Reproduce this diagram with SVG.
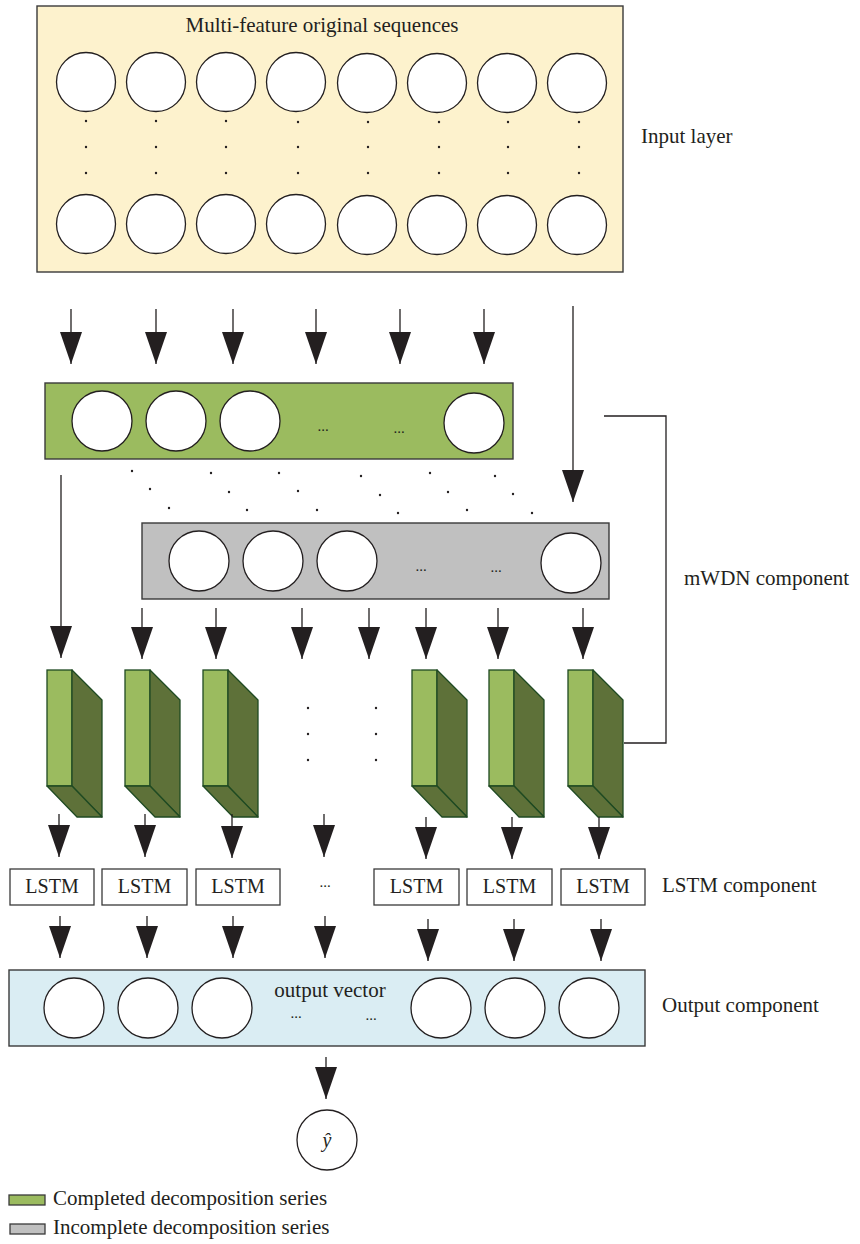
<svg xmlns="http://www.w3.org/2000/svg" width="860" height="1244" viewBox="0 0 860 1244">
<style>
  text { font-family: "Liberation Serif", "Times New Roman", serif; fill: #231f20; }
  .lbl { font-size: 21px; }
  .box { font-size: 20px; text-anchor: middle; }
  .ell { font-size: 15px; text-anchor: middle; }
  .c { fill: #ffffff; stroke: #231f20; stroke-width: 1.3; }
  .panel { stroke: #3a3a3a; stroke-width: 1.4; }
  .dot { fill: #231f20; }
  .arr { stroke: #231f20; stroke-width: 1.3; fill: none; marker-end: url(#ah); }
  .ln { stroke: #231f20; stroke-width: 1.3; fill: none; }
  .front { fill: #9bbb5f; stroke: #1f4a22; stroke-width: 1.3; }
  .side { fill: #5e7139; stroke: #1f4a22; stroke-width: 1.3; stroke-linejoin: round; }
  .lstm { fill: #ffffff; stroke: #3a3a3a; stroke-width: 1.3; }
</style>
<defs>
  <marker id="ah" viewBox="0 0 32 22" refX="32" refY="11" markerWidth="32" markerHeight="22" markerUnits="userSpaceOnUse" orient="auto">
    <polygon points="0,0 32,11 0,22" fill="#231f20"/>
  </marker>
  <g id="blk">
    <rect class="front" x="0" y="0" width="25" height="116"/>
    <polygon class="side" points="25,0 55,30 55,147 25,116"/>
    <polygon class="side" points="0,116 25,116 55,147 30,147"/>
  </g>
</defs>

<!-- Input layer -->
<g id="input-layer">
  <rect class="panel" x="37" y="6" width="586" height="266" fill="#fdf2cd"/>
  <text class="lbl" x="322" y="32" text-anchor="middle">Multi-feature original sequences</text>
  <g>
    <circle class="c" cx="86" cy="82" r="29.5"/>
    <circle class="c" cx="156" cy="82" r="29.5"/>
    <circle class="c" cx="226" cy="82" r="29.5"/>
    <circle class="c" cx="296" cy="82" r="29.5"/>
    <circle class="c" cx="367" cy="83" r="29.5"/>
    <circle class="c" cx="437" cy="83" r="29.5"/>
    <circle class="c" cx="507" cy="83" r="29.5"/>
    <circle class="c" cx="577" cy="83" r="29.5"/>
    <circle class="c" cx="86" cy="224" r="29.5"/>
    <circle class="c" cx="156" cy="224" r="29.5"/>
    <circle class="c" cx="226" cy="224" r="29.5"/>
    <circle class="c" cx="296" cy="224" r="29.5"/>
    <circle class="c" cx="367" cy="225" r="29.5"/>
    <circle class="c" cx="437" cy="225" r="29.5"/>
    <circle class="c" cx="507" cy="225" r="29.5"/>
    <circle class="c" cx="577" cy="225" r="29.5"/>
  </g>
  <g class="dot">
    <circle cx="86" cy="121" r="1.2"/><circle cx="86" cy="147" r="1.2"/><circle cx="86" cy="173" r="1.2"/>
    <circle cx="156" cy="121" r="1.2"/><circle cx="156" cy="147" r="1.2"/><circle cx="156" cy="173" r="1.2"/>
    <circle cx="226" cy="121" r="1.2"/><circle cx="226" cy="147" r="1.2"/><circle cx="226" cy="173" r="1.2"/>
    <circle cx="298" cy="122" r="1.2"/><circle cx="298" cy="147" r="1.2"/><circle cx="298" cy="173" r="1.2"/>
    <circle cx="368" cy="122" r="1.2"/><circle cx="368" cy="147" r="1.2"/><circle cx="368" cy="173" r="1.2"/>
    <circle cx="439" cy="122" r="1.2"/><circle cx="439" cy="147" r="1.2"/><circle cx="439" cy="173" r="1.2"/>
    <circle cx="508" cy="122" r="1.2"/><circle cx="508" cy="147" r="1.2"/><circle cx="508" cy="173" r="1.2"/>
    <circle cx="579" cy="122" r="1.2"/><circle cx="579" cy="147" r="1.2"/><circle cx="579" cy="173" r="1.2"/>
  </g>
</g>
<text class="lbl" x="641" y="143">Input layer</text>

<!-- Completed decomposition (green) -->
<g id="green-series">
  <rect class="panel" x="45" y="383" width="468" height="76" fill="#9bbb5f"/>
  <circle class="c" cx="102" cy="421" r="30"/>
  <circle class="c" cx="176" cy="421" r="30"/>
  <circle class="c" cx="250" cy="421" r="30"/>
  <circle class="c" cx="474" cy="423" r="30"/>
  <text class="ell" x="323" y="431">...</text>
  <text class="ell" x="399" y="433">...</text>
</g>

<!-- diagonal dots -->
<g id="diag-dots" class="dot">
  <circle cx="132" cy="471" r="1.2"/><circle cx="150" cy="489" r="1.2"/><circle cx="169" cy="508" r="1.2"/>
  <circle cx="211" cy="473" r="1.2"/><circle cx="229" cy="492" r="1.2"/><circle cx="247" cy="510" r="1.2"/>
  <circle cx="279" cy="473" r="1.2"/><circle cx="298" cy="491" r="1.2"/><circle cx="317" cy="510" r="1.2"/>
  <circle cx="361" cy="476" r="1.2"/><circle cx="380" cy="495" r="1.2"/><circle cx="398" cy="513" r="1.2"/>
  <circle cx="430" cy="473" r="1.2"/><circle cx="448" cy="492" r="1.2"/><circle cx="467" cy="510" r="1.2"/>
  <circle cx="495" cy="476" r="1.2"/><circle cx="513" cy="494" r="1.2"/><circle cx="532" cy="513" r="1.2"/>
</g>

<!-- Incomplete decomposition (gray) -->
<g id="gray-series">
  <rect class="panel" x="142" y="523" width="467" height="76" fill="#c0c0c0"/>
  <circle class="c" cx="199" cy="561" r="30"/>
  <circle class="c" cx="273" cy="561" r="30"/>
  <circle class="c" cx="347" cy="561" r="30"/>
  <circle class="c" cx="571" cy="563" r="30"/>
  <text class="ell" x="421" y="571">...</text>
  <text class="ell" x="496" y="572">...</text>
</g>
<text class="lbl" x="684" y="585">mWDN component</text>

<!-- 3D blocks -->
<g id="block-1"><use href="#blk" x="47" y="670"/></g>
<g id="block-2"><use href="#blk" x="125" y="670"/></g>
<g id="block-3"><use href="#blk" x="203" y="670"/></g>
<g id="block-4"><use href="#blk" x="412" y="670"/></g>
<g id="block-5"><use href="#blk" x="489" y="670"/></g>
<g id="block-6"><use href="#blk" x="568" y="670"/></g>
<g id="block-dots" class="dot">
  <circle cx="308" cy="708" r="1.2"/><circle cx="308" cy="734" r="1.2"/><circle cx="308" cy="760" r="1.2"/>
  <circle cx="376" cy="708" r="1.2"/><circle cx="376" cy="734" r="1.2"/><circle cx="376" cy="760" r="1.2"/>
</g>

<!-- LSTM row -->
<g id="lstm-1"><rect class="lstm" x="10" y="869" width="84" height="36"/><text class="box" x="52" y="893">LSTM</text></g>
<g id="lstm-2"><rect class="lstm" x="102" y="869" width="85" height="36"/><text class="box" x="144.5" y="893">LSTM</text></g>
<g id="lstm-3"><rect class="lstm" x="196" y="869" width="84" height="36"/><text class="box" x="238" y="893">LSTM</text></g>
<text class="ell" x="325" y="887">...</text>
<g id="lstm-4"><rect class="lstm" x="374" y="869" width="85" height="36"/><text class="box" x="416.5" y="893">LSTM</text></g>
<g id="lstm-5"><rect class="lstm" x="467" y="869" width="85" height="36"/><text class="box" x="509.5" y="893">LSTM</text></g>
<g id="lstm-6"><rect class="lstm" x="561" y="869" width="84" height="36"/><text class="box" x="603" y="893">LSTM</text></g>
<text class="lbl" x="662" y="892">LSTM component</text>

<!-- Output -->
<g id="output-vector">
  <rect class="panel" x="9" y="970" width="636" height="76" fill="#daedf3"/>
  <circle class="c" cx="74" cy="1008" r="30"/>
  <circle class="c" cx="148" cy="1008" r="30"/>
  <circle class="c" cx="222" cy="1008" r="30"/>
  <circle class="c" cx="441" cy="1008" r="30"/>
  <circle class="c" cx="515" cy="1008" r="30"/>
  <circle class="c" cx="589" cy="1008" r="30"/>
  <text class="lbl" x="330" y="997" text-anchor="middle">output vector</text>
  <text class="ell" x="296" y="1018">...</text>
  <text class="ell" x="371" y="1020">...</text>
</g>
<text class="lbl" x="662" y="1012">Output component</text>

<g id="y-hat">
  <circle class="c" cx="327" cy="1140" r="30"/>
  <text x="327" y="1147" font-size="20" font-style="italic" text-anchor="middle">ŷ</text>
</g>

<!-- Legend -->
<g id="legend">
  <rect x="9" y="1195" width="36" height="10" fill="#9bbb5f" stroke="#3a3a3a" stroke-width="1.3"/>
  <text class="lbl" x="53" y="1205">Completed decomposition series</text>
  <rect x="10" y="1224" width="35" height="10" fill="#c0c0c0" stroke="#3a3a3a" stroke-width="1.3"/>
  <text class="lbl" x="53" y="1234">Incomplete decomposition series</text>
</g>

<!-- Connectors -->
<g id="connectors">
  <line class="arr" x1="71" y1="309" x2="71" y2="364"/>
  <line class="arr" x1="156" y1="309" x2="156" y2="364"/>
  <line class="arr" x1="233" y1="309" x2="233" y2="364"/>
  <line class="arr" x1="316" y1="309" x2="316" y2="364"/>
  <line class="arr" x1="400" y1="309" x2="400" y2="364"/>
  <line class="arr" x1="484" y1="309" x2="484" y2="364"/>
  <line class="arr" x1="573" y1="306" x2="573" y2="502"/>
  <line class="arr" x1="61" y1="475" x2="61" y2="658"/>
  <line class="arr" x1="142" y1="608" x2="142" y2="659"/>
  <line class="arr" x1="216" y1="608" x2="216" y2="659"/>
  <line class="arr" x1="302" y1="608" x2="302" y2="659"/>
  <line class="arr" x1="369" y1="608" x2="369" y2="659"/>
  <line class="arr" x1="426" y1="608" x2="426" y2="659"/>
  <line class="arr" x1="498" y1="608" x2="498" y2="659"/>
  <line class="arr" x1="583" y1="608" x2="583" y2="659"/>
  <line class="arr" x1="59" y1="814" x2="59" y2="857"/>
  <line class="arr" x1="145" y1="814" x2="145" y2="857"/>
  <line class="arr" x1="232" y1="814" x2="232" y2="858"/>
  <line class="arr" x1="324" y1="814" x2="324" y2="857"/>
  <line class="arr" x1="426" y1="817" x2="426" y2="859"/>
  <line class="arr" x1="512" y1="817" x2="512" y2="859"/>
  <line class="arr" x1="599" y1="817" x2="599" y2="859"/>
  <line class="arr" x1="60" y1="916" x2="60" y2="958"/>
  <line class="arr" x1="147" y1="916" x2="147" y2="958"/>
  <line class="arr" x1="233" y1="916" x2="233" y2="958"/>
  <line class="arr" x1="325" y1="916" x2="325" y2="958"/>
  <line class="arr" x1="428" y1="919" x2="428" y2="961"/>
  <line class="arr" x1="514" y1="919" x2="514" y2="961"/>
  <line class="arr" x1="601" y1="919" x2="601" y2="961"/>
  <line class="arr" x1="326" y1="1057" x2="326" y2="1099"/>
  <polyline class="ln" points="604,416 666,416 666,743 624,743"/>
</g>
</svg>
